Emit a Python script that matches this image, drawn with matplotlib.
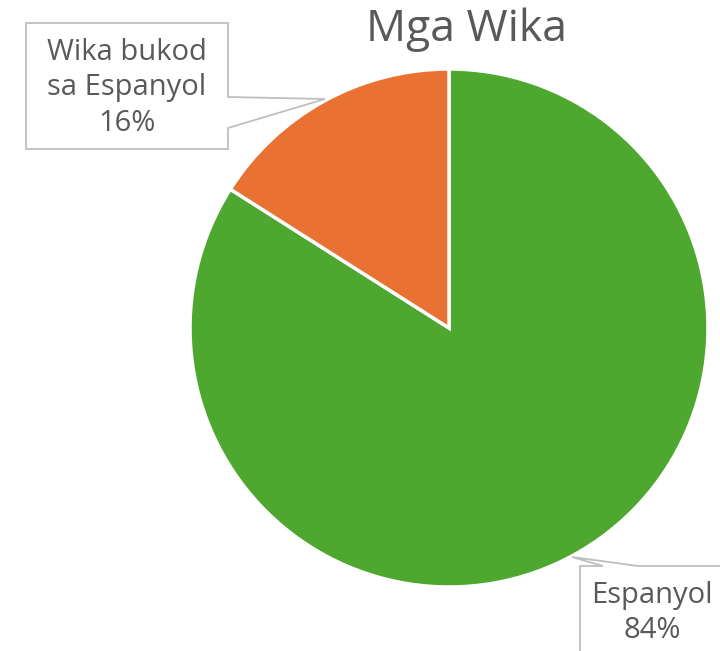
import matplotlib
matplotlib.use("Agg")
import matplotlib.pyplot as plt
from matplotlib.patches import Polygon

categories = ["Espanyol", "Wika bukod\nsa Espanyol"]
values = [84, 16]
colors = ["#4EA72E", "#E97132"]
title = "Mga Wika"

W, H = 720, 651
fig = plt.figure(figsize=(W / 100, H / 100), dpi=100)
ax = fig.add_axes([0, 0, 1, 1])

FONT = ["Open Sans", "DejaVu Sans"]
GRAY = "#595959"

def Y(py):
    return H - py

ax.pie(values, colors=colors, startangle=90, counterclock=False,
       center=(449, Y(328)), radius=259, frame=True,
       wedgeprops=dict(edgecolor="white", linewidth=2.5))
ax.set_xlim(0, W)
ax.set_ylim(0, H)
ax.set_aspect("equal")
ax.axis("off")

ax.text(467, Y(30), title, ha="center", va="center", fontsize=32,
        color=GRAY, family=FONT)

total = sum(values)
labels = [f"{c}\n{round(v / total * 100)}%" for c, v in zip(categories, values)]

# callout for the small slice
box1 = [(26, 23), (228, 23), (228, 97), (325, 99), (228, 128), (228, 149), (26, 149)]
ax.add_patch(Polygon([(x, Y(y)) for x, y in box1], closed=True,
                     facecolor="white", edgecolor="#BFBFBF", linewidth=1.3))
ax.text(127, Y(88), labels[1], ha="center", va="center", fontsize=21,
        color=GRAY, family=FONT, linespacing=1.3)

# callout for the large slice
box0 = [(580, 670), (580, 566), (603, 566), (572, 557), (638, 566), (730, 566), (730, 670)]
ax.add_patch(Polygon([(x, Y(y)) for x, y in box0], closed=True,
                     facecolor="white", edgecolor="#BFBFBF", linewidth=1.3))
ax.text(652, Y(613), labels[0], ha="center", va="center", fontsize=21,
        color=GRAY, family=FONT, linespacing=1.3)

fig.savefig("out.png", dpi=100)
